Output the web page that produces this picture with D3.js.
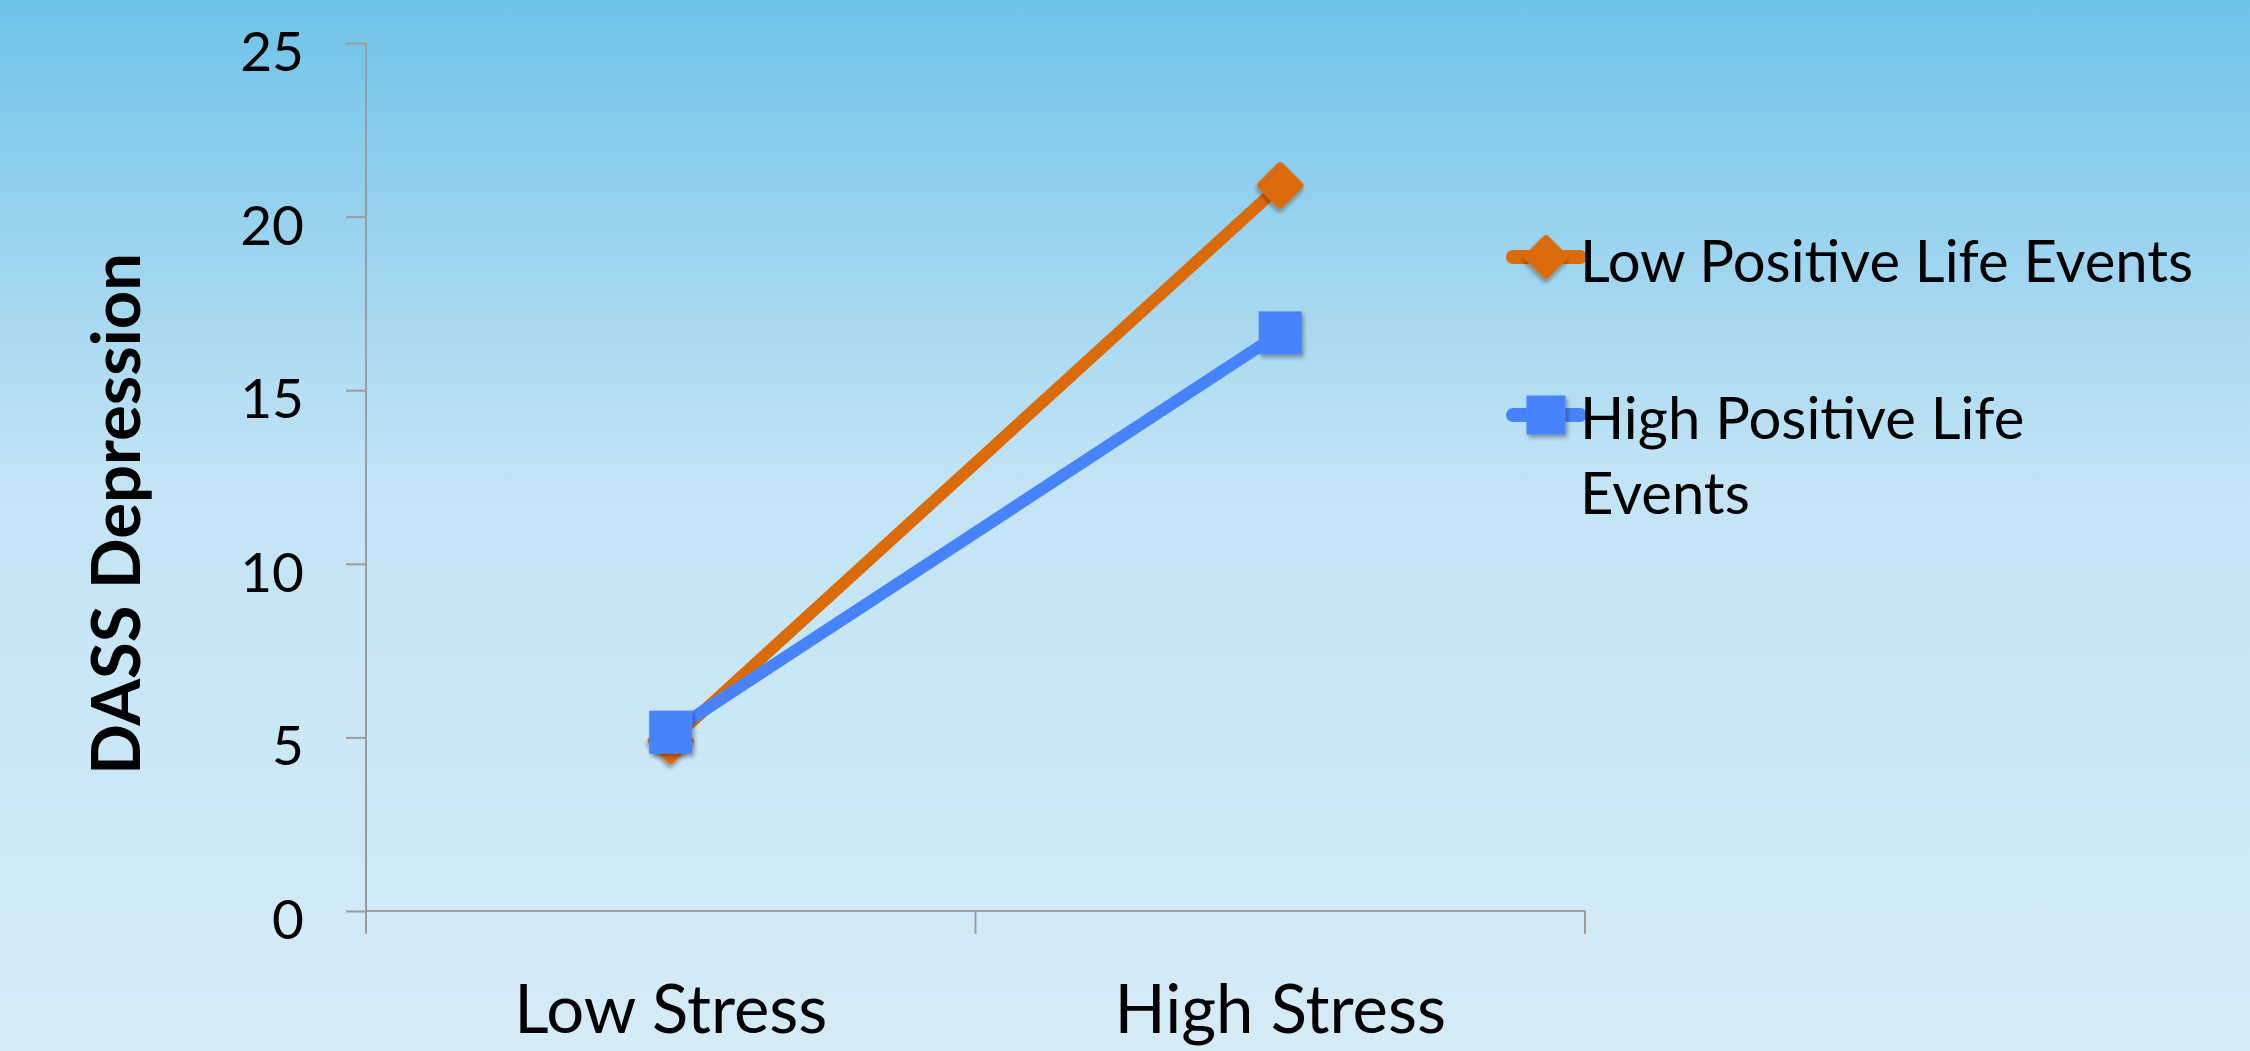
<!DOCTYPE html>
<html>
<head>
<meta charset="utf-8">
<script src="https://cdn.jsdelivr.net/npm/d3@7"></script>
<style>
  body { margin: 0; overflow: hidden; }
  text { font-family: Lato, "Open Sans", sans-serif; fill: #000; }
</style>
</head>
<body>
<svg id="chart"></svg>
<script>
// data
var categories = ["Low Stress", "High Stress"];
var seriesNames = ["Low Positive Life Events", "High Positive Life Events"];
var lowPLE = [4.9, 20.9];
var highPLE = [5.15, 16.65];
var yTicks = [0, 5, 10, 15, 20, 25];

var width = 2250, height = 1051;
var plotLeft = 366, plotRight = 1585, plotTop = 43, plotBottom = 911;
var orange = "#db6b09", blue = "#4683fc", axisCol = "#9c9c9c";

var svg = d3.select("#chart").attr("width", width).attr("height", height);
var defs = svg.append("defs");

var grad = defs.append("linearGradient").attr("id", "bg")
    .attr("x1", 0).attr("y1", 0).attr("x2", 0).attr("y2", 1);
grad.append("stop").attr("offset", "0%").attr("stop-color", "#6ec3e9");
grad.append("stop").attr("offset", "24%").attr("stop-color", "#9dd4ef");
grad.append("stop").attr("offset", "46%").attr("stop-color", "#c2e4f5");
grad.append("stop").attr("offset", "100%").attr("stop-color", "#d5ebf6");

var shadow = defs.append("filter").attr("id", "shadow")
    .attr("x", "-30%").attr("y", "-30%").attr("width", "160%").attr("height", "160%");
shadow.append("feDropShadow").attr("dx", 2).attr("dy", 3).attr("stdDeviation", 2)
    .attr("flood-color", "#000").attr("flood-opacity", 0.35);

svg.append("rect").attr("width", width).attr("height", height).attr("fill", "url(#bg)");

var x = d3.scalePoint().domain(categories).range([plotLeft, plotRight]).padding(0.5);
var band = d3.scaleBand().domain(categories).range([plotLeft, plotRight]);
var y = d3.scaleLinear().domain([0, 25]).range([plotBottom, plotTop]);

// y axis
var yAxis = svg.append("g").attr("transform", "translate(" + plotLeft + ",0)")
    .call(d3.axisLeft(y).tickValues(yTicks).tickSize(20).tickPadding(42).tickFormat(d3.format("d")));
yAxis.select(".domain").attr("stroke", axisCol).attr("stroke-width", 2)
    .attr("d", "M0," + plotTop + "V" + (plotBottom + 23));
yAxis.selectAll(".tick line").attr("stroke", axisCol).attr("stroke-width", 2);
yAxis.selectAll(".tick text").attr("font-size", 55).attr("font-family", "Lato")
    .attr("dy", "0.5em").attr("fill", "#000");

// x axis
var xAxis = svg.append("g");
xAxis.append("line").attr("x1", plotLeft).attr("x2", plotRight).attr("y1", plotBottom).attr("y2", plotBottom)
    .attr("stroke", axisCol).attr("stroke-width", 2);
var xt = categories.map(function(c) { return band(c); }).concat([plotRight]);
xAxis.selectAll(".xtick").data(xt).enter().append("line")
    .attr("x1", function(d) { return d; }).attr("x2", function(d) { return d; })
    .attr("y1", plotBottom).attr("y2", plotBottom + 23)
    .attr("stroke", axisCol).attr("stroke-width", 2);
xAxis.selectAll(".xlab").data(categories).enter().append("text")
    .attr("x", function(d) { return x(d); }).attr("y", 1033)
    .attr("text-anchor", "middle").attr("font-size", 67)
    .text(function(d) { return d; });

// y title
svg.append("text")
    .attr("transform", "translate(140,514) rotate(-90)")
    .attr("text-anchor", "middle").attr("font-size", 67).attr("font-weight", "bold")
    .attr("font-family", "Open Sans")
    .text("DASS Depression");

// lines
var line = d3.line().x(function(d, i) { return x(categories[i]); }).y(function(d) { return y(d); });

svg.append("path").datum(lowPLE).attr("d", line).attr("fill", "none")
    .attr("stroke", orange).attr("stroke-width", 12);
svg.append("path").datum(highPLE).attr("d", line).attr("fill", "none")
    .attr("stroke", blue).attr("stroke-width", 12);

function diamond(g, cx, cy, s) {
  g.append("rect").attr("x", -s / 2).attr("y", -s / 2).attr("width", s).attr("height", s)
    .attr("rx", 4).attr("fill", orange).attr("filter", "url(#shadow)")
    .attr("transform", "translate(" + cx + "," + cy + ") rotate(45)");
}
function square(g, cx, cy, s) {
  g.append("rect").attr("x", cx - s / 2).attr("y", cy - s / 2).attr("width", s).attr("height", s)
    .attr("fill", blue).attr("filter", "url(#shadow)");
}

var marks = svg.append("g");
lowPLE.forEach(function(v, i) { diamond(marks, x(categories[i]), y(v), 35); });
highPLE.forEach(function(v, i) { square(marks, x(categories[i]), y(v), 43); });

// legend
var legend = svg.append("g");
var legY = [257, 415];
[orange, blue].forEach(function(c, i) {
  legend.append("line").attr("x1", 1513).attr("x2", 1580).attr("y1", legY[i]).attr("y2", legY[i])
    .attr("stroke", c).attr("stroke-width", 14).attr("stroke-linecap", "round");
});
diamond(legend, 1546, legY[0], 33);
square(legend, 1546, legY[1], 39);

legend.append("text").attr("x", 1580).attr("y", 282).attr("font-size", 58).text(seriesNames[0]);
var t2 = legend.append("text").attr("x", 1580).attr("y", 439).attr("font-size", 58);
t2.append("tspan").attr("x", 1580).text("High Positive Life");
t2.append("tspan").attr("x", 1580).attr("dy", 75).text("Events");
</script>
</body>
</html>
